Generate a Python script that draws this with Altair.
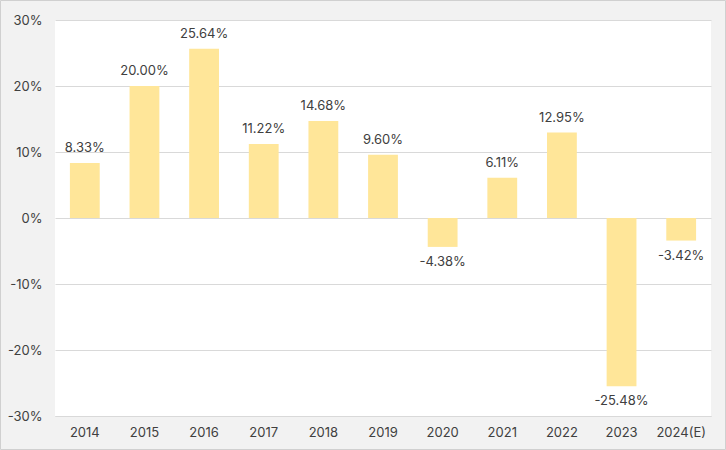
import altair as alt
import pandas as pd

years = ["2014", "2015", "2016", "2017", "2018", "2019", "2020", "2021", "2022", "2023", "2024(E)"]
values = [8.33, 20.00, 25.64, 11.22, 14.68, 9.60, -4.38, 6.11, 12.95, -25.48, -3.42]

df = pd.DataFrame({"year": years, "value": [v / 100 for v in values]})
df["label"] = [f"{v:.2f}%" for v in values]

FONT = "Inter"
TXT = "#404040"

x = alt.X("year:N", sort=years, title=None,
          scale=alt.Scale(paddingInner=0.5, paddingOuter=0.25),
          axis=alt.Axis(labelAngle=0, ticks=False, domain=True, domainColor="#D9D9D9",
                        labelPadding=10, labelFontSize=13, labelColor=TXT, labelFont=FONT))
y = alt.Y("value:Q", title=None,
          scale=alt.Scale(domain=[-0.3, 0.3], nice=False),
          axis=alt.Axis(values=[-0.3, -0.2, -0.1, 0, 0.1, 0.2, 0.3],
                        labelExpr="toString(round(datum.value * 100)) + '%'",
                        ticks=False, domain=False, gridColor="#D9D9D9", labelPadding=13,
                        labelFontSize=13, labelColor=TXT, labelFont=FONT))

base = alt.Chart(df)
bars = base.mark_bar(color="#FFE699").encode(x=x, y=y)
pos = base.transform_filter("datum.value >= 0").mark_text(
    baseline="bottom", dy=-8, fontSize=13, color=TXT, font=FONT
).encode(x=alt.X("year:N", sort=years), y="value:Q", text="label:N")
neg = base.transform_filter("datum.value < 0").mark_text(
    baseline="top", dy=9, fontSize=13, color=TXT, font=FONT
).encode(x=alt.X("year:N", sort=years), y="value:Q", text="label:N")

border = alt.Chart(pd.DataFrame({"a": [0]})).mark_rect(
    fill=None, stroke="#D0D0D0", strokeWidth=1, clip=False
).encode(x=alt.value(-54.5), x2=alt.value(670.5), y=alt.value(-19.5), y2=alt.value(429.5))

chart = alt.layer(bars, pos, neg, border).properties(
    width=656, height=396,
    autosize=alt.AutoSizeParams(type="none"),
    padding={"left": 55, "top": 20, "right": 15, "bottom": 34},
    background="#F2F2F2",
).configure_view(fill="white", stroke=None)

chart.save("out.html", embed_options={"renderer": "svg", "actions": False})
